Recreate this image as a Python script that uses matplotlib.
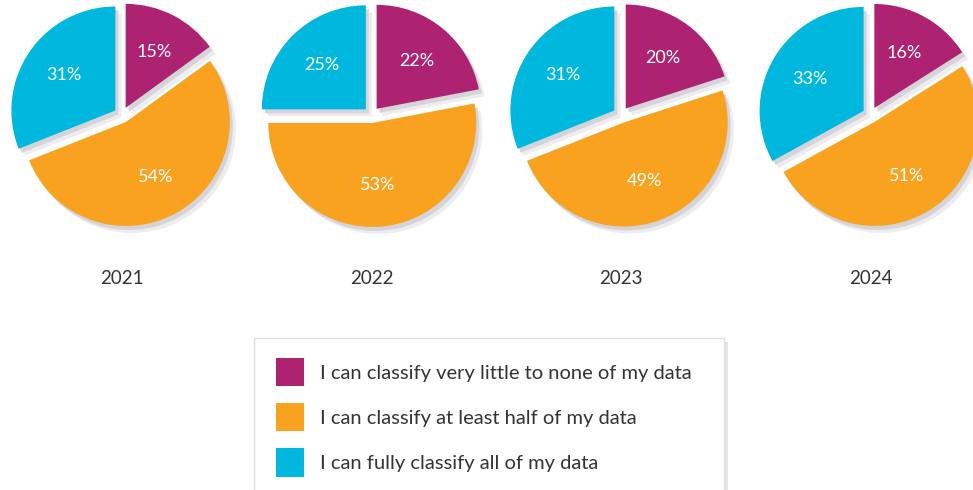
import matplotlib
matplotlib.use('Agg')
import matplotlib.pyplot as plt
from matplotlib.patches import Rectangle

plt.rcParams['font.family'] = ['Lato', 'DejaVu Sans']

# данные
years = ['2021', '2022', '2023', '2024']
little_none = [15, 22, 20, 16]
at_least_half = [54, 53, 49, 51]
fully = [31, 25, 31, 33]
categories = ['I can classify very little to none of my data',
              'I can classify at least half of my data',
              'I can fully classify all of my data']
colors = ['#AE2371', '#F8A21F', '#00B8DD']

W, H = 973, 490


def Y(py):
    # пиксели сверху -> координаты осей
    return H - py


fig = plt.figure(figsize=(W / 100, H / 100), dpi=100)
ax = fig.add_axes([0, 0, 1, 1])

radius = 104
explode = [8, 8, 8]  # в pie смещение задаётся в единицах данных
legend_handles = None

for i, year in enumerate(years):
    vals = [little_none[i], at_least_half[i], fully[i]]
    cx, cy = 122 + 249.5 * i, Y(115)

    # тень (два слоя для мягкости)
    for (dx, dy, col) in [(6, -7, '#ededf0'), (3, -4, '#d4d4d9')]:
        ax.pie(vals, explode=explode, radius=radius, center=(cx + dx, cy + dy),
               colors=[col] * 3, startangle=90, counterclock=False,
               wedgeprops=dict(linewidth=0))

    wedges, _, _ = ax.pie(vals, explode=explode, radius=radius, center=(cx, cy),
                          colors=colors, startangle=90, counterclock=False,
                          autopct=lambda p: f'{p:.0f}%', pctdistance=0.6,
                          wedgeprops=dict(linewidth=0),
                          textprops=dict(color='white', fontsize=13))
    if legend_handles is None:
        legend_handles = wedges

    ax.text(cx, Y(278), year, ha='center', va='center', fontsize=13.5, color='#333333')

# рамка легенды с тенью
box_x, box_top, box_w, box_h = 254, 338, 470, 170
ax.add_patch(Rectangle((box_x + 4, Y(box_top + box_h) - 4), box_w, box_h,
                       facecolor='#e4e4e6', edgecolor='none', zorder=2))
ax.add_patch(Rectangle((box_x, Y(box_top + box_h)), box_w, box_h,
                       facecolor='white', edgecolor='#e0e0e0', linewidth=1, zorder=3))

fs = 14.5
fs_px = fs * 100 / 72
leg = ax.legend(legend_handles, categories, loc='upper left',
                bbox_to_anchor=(276, Y(358)), bbox_transform=ax.transData,
                frameon=False, borderpad=0, borderaxespad=0,
                handlelength=28 / fs_px, handleheight=1.77,
                handletextpad=16 / fs_px, labelspacing=0.85,
                fontsize=fs, labelcolor='#333333')
leg.set_zorder(5)

ax.set_xlim(0, W)
ax.set_ylim(0, H)
ax.set_aspect('auto')
ax.axis('off')

fig.savefig('out.png', dpi=100, facecolor='white')
